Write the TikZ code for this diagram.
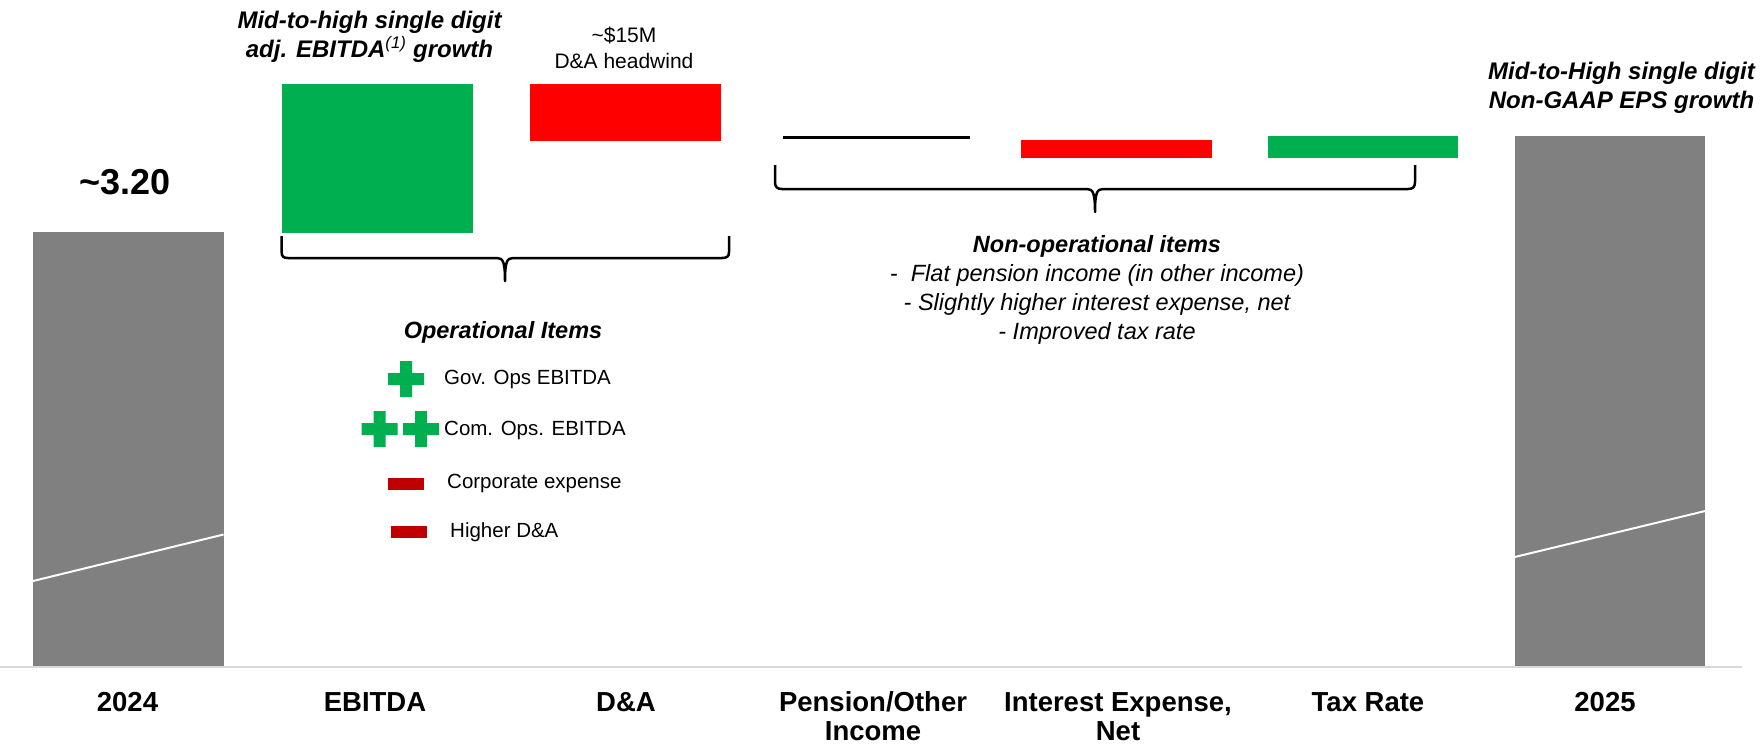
\documentclass[tikz,border=0pt]{standalone}
\usepackage{fontspec}
\setmainfont{Liberation Sans}
\definecolor{barGray}{HTML}{808080}
\definecolor{opsGreen}{HTML}{00B050}
\definecolor{hitRed}{HTML}{FF0000}
\definecolor{legRed}{HTML}{C00000}
\definecolor{axisGray}{HTML}{D9D9D9}
\newcommand{\fsz}[2]{\fontsize{#1}{#2}\selectfont}
\tikzset{
  bar/.style={inner sep=0, outer sep=0, minimum width=190.5pt, anchor=north},
  catlabel/.style={font=\fsz{27.5}{29}\bfseries, align=center, anchor=base},
  headnote/.style={font=\fsz{24}{28.5}\bfseries\itshape, align=center},
  legtext/.style={font=\fsz{20.5}{25}, anchor=west, inner sep=0},
  legdash/.style={fill=legRed, inner sep=0, minimum width=36pt, minimum height=12pt},
  curly/.style={line width=2.5pt, line join=round},
  pics/greenplus/.style={code={
    \fill[opsGreen] (-18,-6) rectangle (18,6) (-6,-18) rectangle (6,18);}}
}
\begin{document}
\begin{tikzpicture}[x=1pt,y=-1pt]
\useasboundingbox (0,0) rectangle (1761,744);
% axis
\draw[axisGray,line width=2pt] (0,667) -- (1742,667);
% bars
\node[bar,fill=barGray,minimum height=434.5pt] (b2024) at (128.3,231.5) {};
\node[bar,fill=opsGreen,minimum height=149pt] (bebitda) at (377.6,83.5) {};
\node[bar,fill=hitRed,minimum height=57pt] (bda) at (625.3,83.5) {};
\coordinate (pensL) at (783.3,137.7);
\coordinate (pensR) at (970,137.7);
\draw[line width=3pt] (pensL) -- (pensR);
\node[bar,fill=hitRed,minimum height=17.7pt] (bint) at (1116.7,140) {};
\node[bar,fill=opsGreen,minimum height=21.7pt] (btax) at (1363,136) {};
\node[bar,fill=barGray,minimum height=530pt] (b2025) at (1610,136) {};
% white lines in the end bars
\draw[white,line width=2pt] (b2024.west |- 0,581) -- (b2024.east |- 0,534.5);
\draw[white,line width=2pt] (b2025.west |- 0,557) -- (b2025.east |- 0,511);
% values and notes
\node[font=\fsz{36}{40}\bfseries] (v2024) at (125,182) {\textasciitilde3.20};
\node[headnote] (ebitdanote) at (369.5,37) {Mid-to-high single digit\\adj. EBITDA\textsuperscript{\mdseries(1)} growth};
\node[font=\fsz{21}{25.5},align=center] (danote) at (624,48) {\textasciitilde\$15M\\D\&A headwind};
\node[headnote] (epsnote) at (1621.5,88) {Mid-to-High single digit\\Non-GAAP EPS growth};
% braces
\draw[curly] (281.6,236) -- (281.6,252) .. controls (281.6,256.5) and (283.5,258) .. (288,258)
  -- (497,258) .. controls (503,258) and (505,262) .. (505,281)
  .. controls (505,262) and (507,258) .. (513,258) -- (722,258)
  .. controls (727,258) and (729,256.5) .. (729,252) -- (729,236);
\draw[curly] (775,165) -- (775,182) .. controls (775,187) and (777,189) .. (782,189)
  -- (1087,189) .. controls (1093,189) and (1095,193) .. (1095,212)
  .. controls (1095,193) and (1097,189) .. (1103,189) -- (1408,189)
  .. controls (1413,189) and (1415,187) .. (1415,182) -- (1415,165);
% operational items
\node[font=\fsz{23.5}{28}\bfseries\itshape] (opshead) at (503,332) {Operational Items};
\pic at (406,379) {greenplus};
\node[legtext] (govops) at (444,379) {Gov. Ops EBITDA};
\pic at (379.5,429) {greenplus};
\pic at (421,429) {greenplus};
\node[legtext] (comops) at (444,430) {Com. Ops. EBITDA};
\node[legdash] (corpdash) at (405.8,483.5) {};
\node[legtext] (corptext) at (447,483) {Corporate expense};
\node[legdash] (dadash) at (408.8,532) {};
\node[legtext] (datext) at (450,532) {Higher D\&A};
% non-operational items
\node[font=\fsz{23.5}{29}\itshape,align=center] (nonops) at (1097,290)
  {\bfseries Non-operational items\\-\ \ Flat pension income (in other income)\\- Slightly higher interest expense, net\\- Improved tax rate};
% category labels
\node[catlabel] (l2024) at (127.5,711) {2024};
\node[catlabel] (lebitda) at (375,711) {EBITDA};
\node[catlabel] (lda) at (626,711) {D\&A};
\node[catlabel] (lpens) at (873,740) {Pension/Other\\Income};
\node[catlabel] (lint) at (1118,740) {Interest Expense,\\Net};
\node[catlabel] (ltax) at (1368,711) {Tax Rate};
\node[catlabel] (l2025) at (1605,711) {2025};
\end{tikzpicture}
\end{document}
